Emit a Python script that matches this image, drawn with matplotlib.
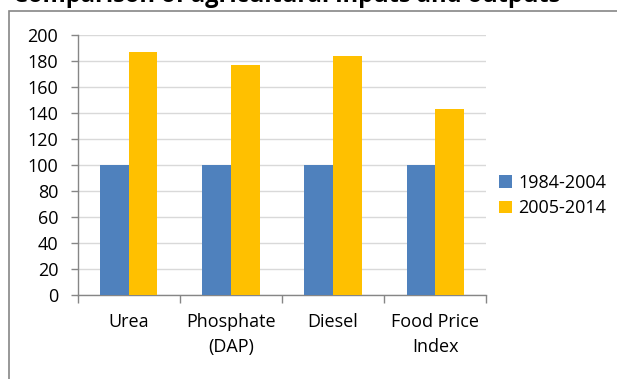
import matplotlib.pyplot as plt
from matplotlib.patches import Rectangle
import numpy as np

plt.rcParams['font.family'] = ['Open Sans', 'DejaVu Sans']

# price index, 1984-2004 = 100
categories = ['Urea', 'Phosphate\n(DAP)', 'Diesel', 'Food Price\nIndex']
period_1 = [100, 100, 100, 100]
period_2 = [187, 177, 184, 143]
series_names = ['1984-2004', '2005-2014']
yticks = list(range(0, 201, 20))

blue = '#4F81BD'
gold = '#FFC000'
axis_gray = '#868686'

fig = plt.figure(figsize=(6.17, 3.79), dpi=100)
ax = fig.add_axes([0.126, 0.2216, 0.662, 0.6861])

x = np.arange(len(categories))
w = 0.28
b1 = ax.bar(x - w / 2, period_1, w, color=blue, zorder=3, label=series_names[0])
b2 = ax.bar(x + w / 2, period_2, w, color=gold, zorder=3, label=series_names[1])

ax.set_xlim(-0.5, len(categories) - 0.5)
ax.set_ylim(0, 200)
ax.set_yticks(yticks)
ax.yaxis.grid(True, color='#d9d9d9', linewidth=1, zorder=0)

for s in ['top', 'right']:
    ax.spines[s].set_visible(False)
for s in ['left', 'bottom']:
    ax.spines[s].set_color(axis_gray)
    ax.spines[s].set_linewidth(1)

ax.set_xticks(x)
ax.set_xticklabels(categories, linespacing=1.5)
ax.set_xticks(np.arange(-0.5, len(categories), 1), minor=True)
ax.tick_params(axis='x', which='major', length=0, pad=13, labelsize=13)
ax.tick_params(axis='x', which='minor', length=6, color=axis_gray, width=1)
ax.tick_params(axis='y', length=5, color=axis_gray, width=1, labelsize=13, pad=9)

fig.legend(handles=[b1, b2], loc='center left', bbox_to_anchor=(0.797, 0.484),
           frameon=False, fontsize=13, handlelength=0.7, handleheight=0.7,
           handletextpad=0.35, labelspacing=0.4, borderaxespad=0)

# outer chart frame
fig.patches.append(Rectangle((8.5 / 617, -0.1), 1.2, 1 - 10.5 / 379 + 0.1,
                             transform=fig.transFigure, fill=False,
                             edgecolor=axis_gray, linewidth=1.2))

fig.text(0.465, 1 - 2 / 379, 'Comparison of agricultural inputs and outputs',
         ha='center', va='baseline', fontsize=17, fontweight='bold')

fig.savefig('out.png', dpi=100)
